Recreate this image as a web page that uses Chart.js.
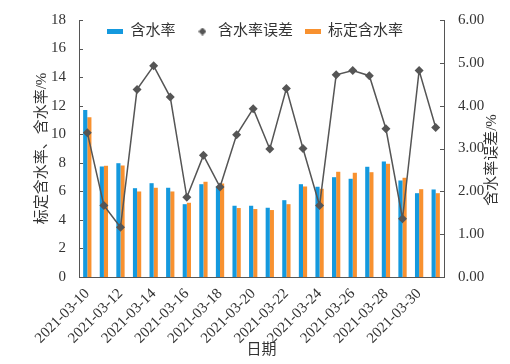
<!DOCTYPE html>
<html>
<head>
<meta charset="utf-8">
<script src="https://cdn.jsdelivr.net/npm/chart.js@4"></script>
<style>
  body { margin: 0; background: #fff; }
  #wrap { width: 510px; height: 364px; }
</style>
</head>
<body>
<div id="wrap"><canvas id="moisture" width="510" height="364"></canvas></div>
<script>
const dates = ['2021-03-10', '2021-03-11', '2021-03-12', '2021-03-13', '2021-03-14', '2021-03-15',
  '2021-03-16', '2021-03-17', '2021-03-18', '2021-03-19', '2021-03-20', '2021-03-21',
  '2021-03-22', '2021-03-23', '2021-03-24', '2021-03-25', '2021-03-26', '2021-03-27',
  '2021-03-28', '2021-03-29', '2021-03-30', '2021-03-31'];

// 含水率 (left axis, %)
const moisture = [11.70, 7.74, 7.97, 6.22, 6.57, 6.25, 5.10, 6.50, 6.34, 4.99, 4.99,
  4.85, 5.38, 6.50, 6.32, 6.99, 6.88, 7.72, 8.09, 6.76, 5.87, 6.13];
// 标定含水率 (left axis, %)
const calibrated = [11.19, 7.79, 7.81, 5.99, 6.25, 5.99, 5.20, 6.67, 6.55, 4.83, 4.76,
  4.69, 5.10, 6.34, 6.18, 7.37, 7.30, 7.34, 7.93, 6.95, 6.15, 5.87];
// 含水率误差 (right axis, %)
const moistureError = [3.37, 1.67, 1.16, 4.38, 4.93, 4.20, 1.86, 2.84, 2.10, 3.32, 3.93,
  2.99, 4.40, 3.00, 1.67, 4.72, 4.82, 4.70, 3.46, 1.36, 4.82, 3.49];

const seriesNames = ['含水率', '含水率误差', '标定含水率'];
const xTitle = '日期';
const yTitle = '标定含水率、含水率/%';
const y1Title = '含水率误差/%';

const BLUE = '#1499de';
const ORANGE = '#f8912f';
const GREY = '#555555';
const TEXT = '#333333';
const FONT = "'Liberation Serif', 'Noto Sans CJK SC', serif";

// little canvases used as legend markers
function marker(w, h, draw) {
  const c = document.createElement('canvas');
  c.width = w; c.height = h;
  draw(c.getContext('2d'));
  return c;
}
const blueBox = marker(16, 5, ctx => { ctx.fillStyle = BLUE; ctx.fillRect(0, 0, 16, 5); });
const orangeBox = marker(16, 5, ctx => { ctx.fillStyle = ORANGE; ctx.fillRect(0, 0, 16, 5); });
const diamond = marker(8, 8, ctx => {
  ctx.fillStyle = GREY;
  ctx.beginPath();
  ctx.moveTo(4, 0); ctx.lineTo(8, 4); ctx.lineTo(4, 8); ctx.lineTo(0, 4);
  ctx.closePath(); ctx.fill();
});
const legendMarkers = [blueBox, diamond, orangeBox];
const legendTexts = [seriesNames[0] + '\u2003', seriesNames[1] + '\u2002', seriesNames[2]];

// legend sits inside the plot: it takes no height in the layout,
// then gets its height back so it is not clipped away when drawn
const legendInside = {
  id: 'legendInside',
  afterInit(chart) {
    const legend = chart.legend;
    const fit = legend.fit;
    legend.fit = function () {
      fit.call(this);
      this.height = 0;
    };
  },
  beforeDraw(chart) {
    const legend = chart.legend;
    legend.height = 30;
    legend.bottom = legend.top + 30;
  }
};

// short tick marks pointing into the plot on both value axes
const innerTicks = {
  id: 'innerTicks',
  afterDraw(chart) {
    const ctx = chart.ctx;
    ctx.save();
    ctx.strokeStyle = GREY;
    ctx.lineWidth = 1;
    for (const id of ['y', 'y1']) {
      const s = chart.scales[id];
      const x = id === 'y' ? s.right : s.left;
      const dir = id === 'y' ? 1 : -1;
      s.ticks.forEach(t => {
        const py = Math.round(s.getPixelForValue(t.value)) + 0.5;
        ctx.beginPath();
        ctx.moveTo(x, py);
        ctx.lineTo(x + dir * 4, py);
        ctx.stroke();
      });
    }
    ctx.restore();
  }
};

// right axis title reads bottom-to-top in the reference
const rightTitle = {
  id: 'rightTitle',
  afterDraw(chart) {
    const ctx = chart.ctx;
    ctx.save();
    ctx.translate(492, 160);
    ctx.rotate(-Math.PI / 2);
    ctx.font = '15px ' + FONT;
    ctx.fillStyle = TEXT;
    ctx.textAlign = 'center';
    ctx.textBaseline = 'middle';
    ctx.fillText(y1Title, 0, 0);
    ctx.restore();
  }
};

new Chart(document.getElementById('moisture'), {
  data: {
    labels: dates,
    datasets: [
      {
        type: 'bar',
        label: seriesNames[0],
        data: moisture,
        backgroundColor: BLUE,
        yAxisID: 'y',
        order: 1,
        categoryPercentage: 0.5,
        barPercentage: 1.0
      },
      {
        type: 'line',
        label: seriesNames[1],
        data: moistureError,
        borderColor: GREY,
        backgroundColor: GREY,
        borderWidth: 1.5,
        pointStyle: 'rectRot',
        pointRadius: 4.5,
        pointBackgroundColor: GREY,
        pointBorderWidth: 0,
        tension: 0,
        yAxisID: 'y1',
        order: 0
      },
      {
        type: 'bar',
        label: seriesNames[2],
        data: calibrated,
        backgroundColor: ORANGE,
        yAxisID: 'y',
        order: 1,
        categoryPercentage: 0.5,
        barPercentage: 1.0
      }
    ]
  },
  options: {
    responsive: false,
    animation: false,
    layout: { padding: { top: 20, left: 0, right: 0, bottom: 0 } },
    plugins: {
      tooltip: { enabled: false },
      legend: {
        position: 'top',
        align: 'center',
        labels: {
          usePointStyle: true,
          pointStyleWidth: 16,
          boxHeight: 6,
          padding: 4,
          color: TEXT,
          font: { family: FONT, size: 15 },
          sort: (a, b) => a.datasetIndex - b.datasetIndex,
          generateLabels: chart => {
            const items = Chart.defaults.plugins.legend.labels.generateLabels(chart);
            return items.map(item => {
              item.pointStyle = legendMarkers[item.datasetIndex];
              item.text = legendTexts[item.datasetIndex];
              item.lineWidth = 0;
              return item;
            });
          }
        }
      }
    },
    scales: {
      x: {
        offset: true,
        grid: { display: false },
        border: { display: true, color: GREY, width: 1 },
        ticks: {
          autoSkip: false,
          minRotation: 45,
          maxRotation: 45,
          padding: 0,
          color: TEXT,
          font: { family: FONT, size: 15 },
          callback: (v, i) => (i % 2 === 0 ? dates[i] : '')
        },
        title: {
          display: true,
          text: xTitle,
          color: TEXT,
          font: { family: FONT, size: 15 },
          padding: { top: 0, bottom: 5 }
        },
        afterFit: s => { s.height = 87; }
      },
      y: {
        position: 'left',
        min: 0,
        max: 18,
        grid: { display: false },
        border: { display: true, color: GREY, width: 1 },
        ticks: {
          stepSize: 2,
          padding: 5,
          color: TEXT,
          font: { family: FONT, size: 15 }
        },
        title: {
          display: true,
          text: yTitle,
          color: TEXT,
          font: { family: FONT, size: 15 },
          padding: { top: 33, bottom: 0 }
        },
        afterFit: s => { s.width = 79; }
      },
      y1: {
        position: 'right',
        min: 0,
        max: 6,
        grid: { display: false },
        border: { display: true, color: GREY, width: 1 },
        ticks: {
          stepSize: 1,
          padding: 6,
          color: TEXT,
          font: { family: FONT, size: 15 },
          callback: v => v.toFixed(2)
        },
        afterFit: s => { s.width = 66; }
      }
    }
  },
  plugins: [legendInside, innerTicks, rightTitle]
});
</script>
</body>
</html>
